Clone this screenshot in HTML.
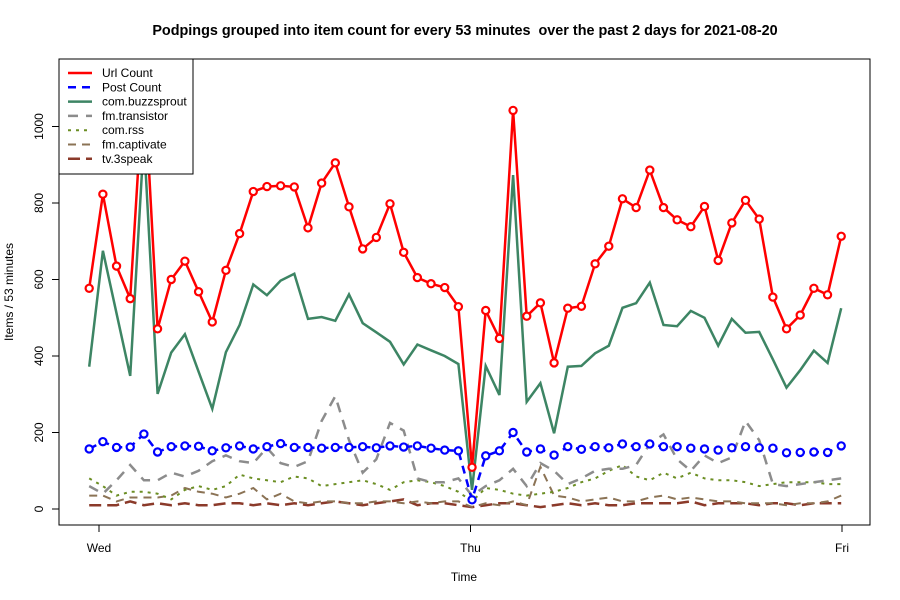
<!DOCTYPE html>
<html><head><meta charset="utf-8">
<style>
body{margin:0;background:#fff;}
svg{display:block;font-family:"Liberation Sans",sans-serif;}
</style></head>
<body>
<svg id="chart" width="900" height="600" viewBox="0 0 900 600">
<rect width="900" height="600" fill="#fff"/>
<text x="465" y="35" font-size="14.4" font-weight="bold" text-anchor="middle" style="white-space:pre">Podpings grouped into item count for every 53 minutes  over the past 2 days for 2021-08-20</text>
<rect x="59" y="59" width="811" height="466" fill="none" stroke="#000" stroke-width="1"/>
<g id="axes"></g>
<g id="series"></g>
<text x="464" y="581" font-size="12" text-anchor="middle">Time</text>
<text x="13" y="292" font-size="12" text-anchor="middle" transform="rotate(-90 13 292)">Items / 53 minutes</text>
<g id="legend"></g>
</svg>
<script>
const url=[577,823,635,550,1133,471,600,648,568,489,624,720,830,843,845,842,735,852,905,790,680,710,798,671,605,589,579,529,109,519,446,1042,504,539,382,525,530,641,687,811,788,886,788,756,738,791,650,748,807,758,554,471,507,577,560,713];
const post=[157,176,161,162,196,149,163,165,164,152,160,165,157,163,171,161,161,159,161,161,163,160,165,162,165,159,154,152,24,139,152,200,149,157,141,163,156,163,160,170,163,170,163,163,159,157,154,160,163,160,159,147,148,149,148,165];
const buzz=[372,675,512,348,969,301,409,457,359,262,410,481,587,559,597,615,497,502,492,561,486,462,437,378,430,415,400,379,50,374,298,873,280,329,198,372,374,407,427,526,538,592,481,478,518,500,427,497,461,463,391,317,363,414,382,525];
const transistor=[60,40,75,115,75,75,95,85,100,125,140,125,120,160,120,110,125,230,295,180,95,130,225,205,80,70,70,80,35,60,75,105,60,120,100,65,80,100,105,105,115,170,195,130,100,140,120,135,230,180,65,60,65,70,75,80];
const rss=[80,60,35,45,45,40,25,50,60,50,60,90,80,75,70,85,80,60,65,70,75,65,50,70,75,70,60,45,20,55,50,40,35,40,45,55,70,80,100,115,85,75,95,80,95,80,75,75,70,60,65,70,70,70,65,65];
const captivate=[35,35,20,30,30,30,35,55,45,40,30,40,55,25,40,20,15,20,20,15,15,20,20,15,20,15,20,20,5,15,10,20,10,110,35,30,20,25,30,20,20,30,35,25,30,25,20,20,15,15,15,10,15,15,20,35];
const speak=[10,10,10,20,10,15,10,15,10,10,15,15,10,15,10,15,10,15,20,15,10,15,20,25,10,15,15,10,5,10,15,15,10,5,10,15,10,15,10,10,15,15,15,15,20,10,15,15,15,10,15,15,10,15,15,15];
const dayLabels=["Wed","Thu","Fri"];
const yTicks=[0,200,400,600,800,1000];
const startMin=-38, stepMin=53;

const NS="http://www.w3.org/2000/svg";
const xS=t=>99+t*(743/2880);
const yS=v=>509-v*0.3825;
const xi=i=>xS(startMin+stepMin*i);
function mk(tag,attrs,parent){const e=document.createElementNS(NS,tag);for(const k in attrs)e.setAttribute(k,attrs[k]);parent.appendChild(e);return e;}
const axes=document.getElementById('axes');
let xl=mk('line',{x1:xS(0),x2:xS(2880),y1:525,y2:525,stroke:'#000'},axes);


dayLabels.forEach((d,k)=>{
  const x=xS(k*1440);
  const t=mk('line',{x1:x,x2:x,y1:525,y2:532,stroke:'#000'},axes);
  
  
  const l=mk('text',{x:x,y:552,'font-size':12,'text-anchor':'middle'},axes);l.textContent=d;
  
  
});
let yl=mk('line',{x1:59,x2:59,y1:yS(0),y2:yS(1000),stroke:'#000'},axes);


yTicks.forEach(v=>{
  const y=yS(v);
  const t=mk('line',{x1:52,x2:59,y1:y,y2:y,stroke:'#000'},axes);
  
  
  const l=mk('text',{x:43,y:y,'font-size':12,'text-anchor':'middle',transform:`rotate(-90 43 ${y})`},axes);l.textContent=v;
  
  
});
const seriesG=document.getElementById('series');
const defs=[
 {d:speak,c:'#8b3a2a',dash:'12 6',w:2.5,n:'tv.3speak'},
 {d:captivate,c:'#8b7355',dash:'8 6',w:2,n:'fm.captivate'},
 {d:rss,c:'#6b8e23',dash:'3 5',w:2,n:'com.rss'},
 {d:transistor,c:'#8c8c8c',dash:'10 8',w:2.5,n:'fm.transistor'},
 {d:buzz,c:'#3d8564',dash:'',w:2.5,n:'com.buzzsprout'},
 {d:post,c:'#0000ff',dash:'8 6',w:2.5,n:'Post Count',pts:true},
 {d:url,c:'#ff0000',dash:'',w:2.5,n:'Url Count',pts:true}
];
defs.forEach(s=>{
  const n=Math.min(s.d.length,56);
  let p='';for(let i=0;i<n;i++)p+=(i?'L':'M')+xi(i).toFixed(1)+','+yS(s.d[i]).toFixed(1);
  const path=mk('path',{d:p,fill:'none',stroke:s.c,'stroke-width':s.w,'stroke-dasharray':s.dash},seriesG);
  
  
  if(s.pts){for(let i=0;i<n;i++){
    const c=mk('circle',{cx:xi(i),cy:yS(s.d[i]),r:3.6,fill:'#fff',stroke:s.c,'stroke-width':2.2},seriesG);
    
    
  }}
});
const lg=document.getElementById('legend');
const lb=mk('rect',{x:59,y:59,width:134,height:115,fill:'#fff',stroke:'#000'},lg);


const order=[6,5,4,3,2,1,0];
order.forEach((k,j)=>{
  const s=defs[k];const y=73+j*14.3;
  const l=mk('line',{x1:68,x2:92,y1:y,y2:y,stroke:s.c,'stroke-width':s.w,'stroke-dasharray':s.dash},lg);
  
  
  const t=mk('text',{x:102,y:y+4,'font-size':12},lg);t.textContent=s.n;
  
  
});
</script>
</body></html>
